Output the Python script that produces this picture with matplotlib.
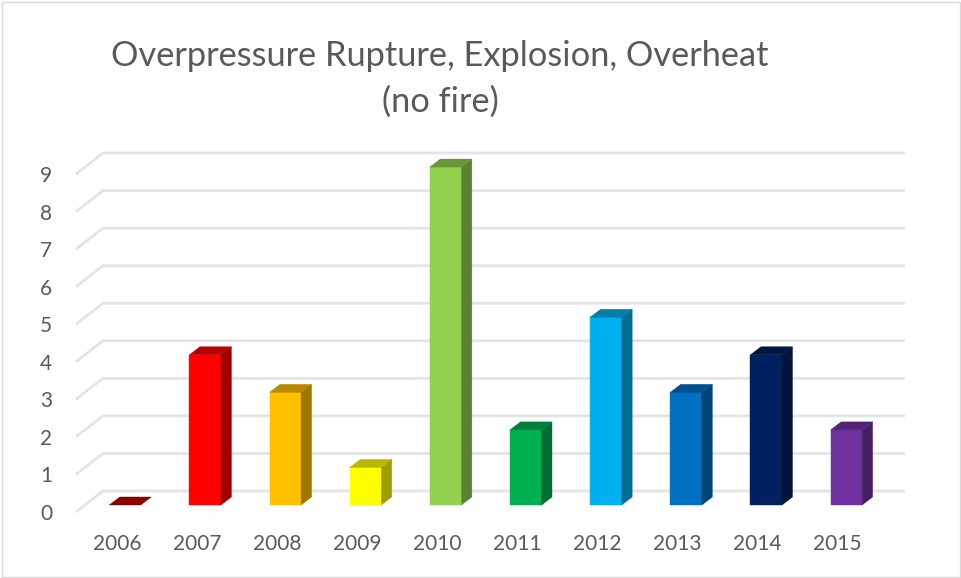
import matplotlib
matplotlib.use("Agg")
import matplotlib.pyplot as plt
from matplotlib.patches import Rectangle
from matplotlib.colors import to_rgb

years = ['2006', '2007', '2008', '2009', '2010', '2011', '2012', '2013', '2014', '2015']
counts = [0, 4, 3, 1, 9, 2, 5, 3, 4, 2]
colors = ['#C00000', '#FF0000', '#FFC000', '#FFFF00', '#92D050',
          '#00B050', '#00B0F0', '#0070C0', '#002060', '#7030A0']
grid_values = list(range(10))
title = 'Overpressure Rupture, Explosion, Overheat\n(no fire)'

W, H = 961, 578
plt.rcParams['font.family'] = ['Lato', 'DejaVu Sans']
fig = plt.figure(figsize=(W / 100, H / 100), dpi=100)

# axes frame = front wall, value 0 at its bottom edge
L, R, B, T = 76, 905, 512, 174
ax = fig.add_axes([L / W, 1 - B / H, (R - L) / W, (B - T) / H])
UX, UY = 80.0, 37.55
ax.set_xlim((L - 117) / UX, (R - 117) / UX)
ax.set_ylim(0, (B - T) / UY)
for s in ax.spines.values():
    s.set_visible(False)

# depth of the 3D look, in data units
WALL_DX, WALL_DY = 27 / UX, 21 / UY
BAR_SHIFT, BAR_STEP, FLOOR = 8 / UX, 80.15 / UX, 7 / UY
BAR_W = 31.5 / UX
DX, DY = 10.5 / UX, 8 / UY

ax.set_xticks(range(len(years)), years)
ax.set_yticks(grid_values, [str(v) for v in grid_values])
ax.tick_params(axis='both', length=0, labelsize=15, labelcolor='#595959')
ax.tick_params(axis='x', pad=16)
ax.tick_params(axis='y', pad=17)

x0, x1 = ax.get_xlim()
GRID = '#E4E4E4'
for v in grid_values:
    ax.plot([x0, x0 + WALL_DX, x1], [v, v + WALL_DY, v + WALL_DY], color=GRID,
            lw=2.0, clip_on=False, zorder=1, solid_joinstyle='miter',
            solid_capstyle='butt')


def shade(c, f):
    return tuple(f * ch for ch in to_rgb(c))


for i, (v, c) in enumerate(zip(counts, colors)):
    xl = i * BAR_STEP + BAR_SHIFT - BAR_W / 2
    xr = xl + BAR_W
    y0, y1 = FLOOR, FLOOR + v
    if v > 0:
        ax.fill([xl, xr, xr, xl], [y0, y0, y1, y1], color=c, lw=0.3, zorder=3,
                clip_on=False)
        ax.fill([xr, xr + DX, xr + DX, xr], [y0, y0 + DY, y1 + DY, y1],
                color=shade(c, 0.62), lw=0.3, zorder=3, clip_on=False)
    ax.fill([xl, xr, xr + DX, xl + DX], [y1, y1, y1 + DY, y1 + DY],
            color=shade(c, 0.72), lw=0.3, zorder=3, clip_on=False)

fig.text(440 / W, 1 - 79 / H, title, ha='center', va='center', fontsize=24.75,
         color='#595959', linespacing=1.5)

fig.add_artist(Rectangle((2 / W, 1.5 / H), (W - 3) / W, (H - 3) / H,
                         transform=fig.transFigure, fill=False,
                         edgecolor='#D9D9D9', lw=1))
fig.savefig('out.png', dpi=100)
